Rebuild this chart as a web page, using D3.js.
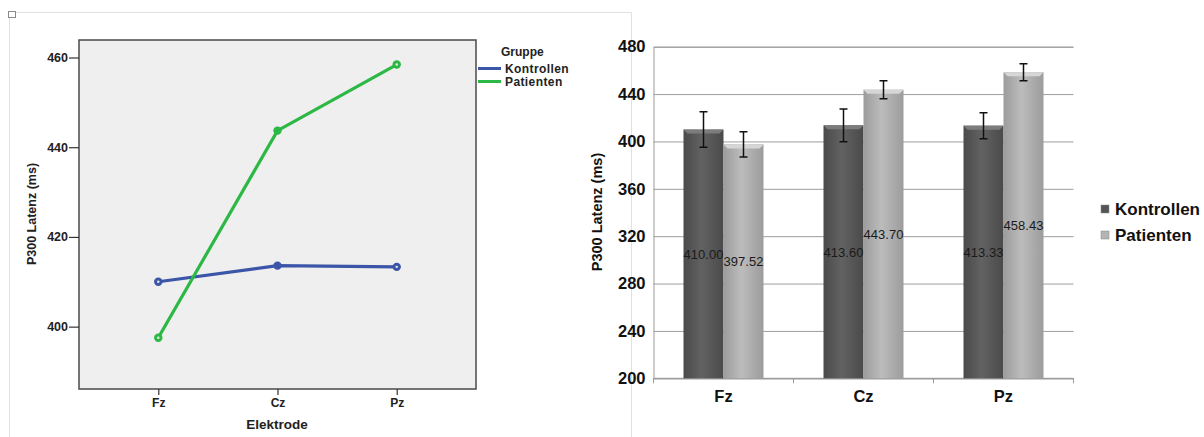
<!DOCTYPE html>
<html lang="de">
<head>
<meta charset="UTF-8">
<title>P300 Latenz</title>
<style>
  body { margin: 0; background: #fff; }
  svg { display: block; font-family: "Liberation Sans", Arial, sans-serif; }
</style>
</head>
<body>
<svg width="1204" height="437"></svg>
<script src="https://d3js.org/d3.v7.min.js"></script>
<script>
  // data
  const electrodes = ["Fz", "Cz", "Pz"];
  const groups = ["Kontrollen", "Patienten"];
  const kontrollen = [410.00, 413.60, 413.33];
  const patienten = [397.52, 443.70, 458.43];
  const errKontrollen = [15.0, 13.8, 11.0];
  const errPatienten = [10.6, 7.6, 7.2];
  const lineTicks = [400, 420, 440, 460];
  const barTicks = [200, 240, 280, 320, 360, 400, 440, 480];

  const svg = d3.select("svg");

  // ---------- left panel (line chart) ----------
  const frame = svg.append("g");
  frame.append("path")
    .attr("d", "M9.5,437 L9.5,12.5 L631.5,12.5 L631.5,437")
    .attr("fill", "none").attr("stroke", "#e0e0e0");
  frame.append("rect")
    .attr("x", 8.5).attr("y", 11.5).attr("width", 7).attr("height", 6)
    .attr("fill", "#fff").attr("stroke", "#8a8a8a");

  const L = { left: 79, top: 40, right: 476, bottom: 389 };
  const xL = d3.scalePoint().domain(electrodes).range([L.left, L.right]).padding(0.665);
  const yL = d3.scaleLinear().domain([386.1, 463.9]).range([L.bottom, L.top]);

  const left = svg.append("g");
  left.append("rect")
    .attr("x", L.left).attr("y", L.top)
    .attr("width", L.right - L.left).attr("height", L.bottom - L.top)
    .attr("fill", "#efefef").attr("stroke", "#4a4a4a").attr("stroke-width", 1.5);

  const yAxisL = left.append("g")
    .attr("transform", `translate(${L.left},0)`)
    .call(d3.axisLeft(yL).tickValues(lineTicks).tickSize(10).tickPadding(1));
  yAxisL.select(".domain").remove();
  yAxisL.selectAll("line").attr("stroke", "#333").attr("stroke-width", 1.2);
  yAxisL.selectAll("text").attr("fill", "#222").style("font-size", "12.5px").style("font-weight", "bold");

  const xAxisL = left.append("g")
    .attr("transform", `translate(0,${L.bottom})`)
    .call(d3.axisBottom(xL).tickSize(6).tickPadding(3));
  xAxisL.select(".domain").remove();
  xAxisL.selectAll("line").attr("stroke", "#333").attr("stroke-width", 1.2);
  xAxisL.selectAll("text").attr("fill", "#222").style("font-size", "12px").style("font-weight", "bold");

  left.append("text")
    .attr("x", 277).attr("y", 429).attr("text-anchor", "middle")
    .attr("fill", "#222").style("font-size", "13.5px").style("font-weight", "bold")
    .text("Elektrode");
  left.append("text")
    .attr("transform", "translate(36,214) rotate(-90)").attr("text-anchor", "middle")
    .attr("fill", "#222").style("font-size", "12.5px").style("font-weight", "bold")
    .text("P300 Latenz (ms)");

  const lineSeries = [
    { name: groups[0], values: kontrollen, color: "#3b55a8" },
    { name: groups[1], values: patienten, color: "#2bb844" }
  ];
  const line = d3.line().x((d, i) => xL(electrodes[i])).y(d => yL(d));
  lineSeries.forEach(s => {
    left.append("path")
      .attr("d", line(s.values))
      .attr("fill", "none").attr("stroke", s.color).attr("stroke-width", 3.2);
    left.selectAll(null).data(s.values).enter().append("circle")
      .attr("cx", (d, i) => xL(electrodes[i])).attr("cy", d => yL(d))
      .attr("r", 4.2).attr("fill", s.color);
    left.selectAll(null).data(s.values).enter().append("circle")
      .attr("cx", (d, i) => xL(electrodes[i])).attr("cy", d => yL(d))
      .attr("r", 1.2).attr("fill", (d, i) => i === 1 ? s.color : "#e8f0e8");
  });

  // legend
  const legL = left.append("g");
  legL.append("text").attr("x", 501).attr("y", 56)
    .attr("fill", "#222").style("font-size", "12px").style("font-weight", "bold")
    .text("Gruppe");
  lineSeries.forEach((s, i) => {
    const y = 68.5 + i * 13;
    legL.append("line").attr("x1", 478).attr("x2", 501).attr("y1", y).attr("y2", y)
      .attr("stroke", s.color).attr("stroke-width", 3);
    legL.append("text").attr("x", 505).attr("y", y + 4.5)
      .attr("fill", "#222").style("font-size", "12px").style("font-weight", "bold")
      .style("letter-spacing", "0.4px")
      .text(s.name);
  });

  // ---------- right panel (bar chart) ----------
  const R = { left: 653.5, top: 46.7, right: 1073.5, bottom: 378.3 };
  const x0 = d3.scaleBand().domain(electrodes).range([R.left, R.right])
    .paddingInner(0.4286).paddingOuter(0.2143);
  const x1 = d3.scaleBand().domain(groups).range([0, x0.bandwidth()]);
  const yR = d3.scaleLinear().domain([200, 480]).range([R.bottom, R.top]);

  const defs = svg.append("defs");
  function hGrad(id, edge, mid) {
    const g = defs.append("linearGradient").attr("id", id).attr("x1", 0).attr("x2", 1).attr("y1", 0).attr("y2", 0);
    g.append("stop").attr("offset", "0%").attr("stop-color", edge);
    g.append("stop").attr("offset", "45%").attr("stop-color", mid);
    g.append("stop").attr("offset", "100%").attr("stop-color", edge);
  }
  hGrad("gDark", "#4a4a4a", "#626262");
  hGrad("gLight", "#9c9c9c", "#bcbcbc");
  const barFill = { Kontrollen: "url(#gDark)", Patienten: "url(#gLight)" };
  const bevelFill = { Kontrollen: "#7c7c7c", Patienten: "#d6d6d6" };

  const right = svg.append("g");

  const yAxisR = right.append("g")
    .attr("transform", `translate(${R.left},0)`)
    .call(d3.axisLeft(yR).tickValues(barTicks).tickSize(-(R.right - R.left)).tickPadding(8));
  yAxisR.select(".domain").attr("stroke", "#9a9a9a");
  yAxisR.selectAll("line").attr("stroke", "#9e9e9e");
  yAxisR.selectAll("text").attr("fill", "#111").style("font-size", "16.5px").style("font-weight", "bold");

  // bottom axis with ticks between categories
  right.append("line")
    .attr("x1", R.left).attr("x2", R.right).attr("y1", R.bottom).attr("y2", R.bottom)
    .attr("stroke", "#9a9a9a");
  const sep = [R.left].concat(electrodes.map(e => x0(e) + x0.bandwidth() + x0.step() * x0.paddingInner() / 2 - 0));
  sep.forEach(xv => {
    right.append("line").attr("x1", xv).attr("x2", xv)
      .attr("y1", R.bottom).attr("y2", R.bottom + 5).attr("stroke", "#9a9a9a");
  });
  right.selectAll(null).data(electrodes).enter().append("text")
    .attr("x", d => x0(d) + x0.bandwidth() / 2).attr("y", 402)
    .attr("text-anchor", "middle").attr("fill", "#111")
    .style("font-size", "16.5px").style("font-weight", "bold")
    .text(d => d);

  right.append("text")
    .attr("transform", "translate(602,212) rotate(-90)").attr("text-anchor", "middle")
    .attr("fill", "#111").style("font-size", "14.5px").style("font-weight", "bold")
    .text("P300 Latenz (ms)");

  const barData = [];
  electrodes.forEach((e, i) => {
    barData.push({ e, g: "Kontrollen", v: kontrollen[i], err: errKontrollen[i] });
    barData.push({ e, g: "Patienten", v: patienten[i], err: errPatienten[i] });
  });

  const bars = right.selectAll(".bar").data(barData).enter().append("g").attr("class", "bar");
  bars.append("rect")
    .attr("x", d => x0(d.e) + x1(d.g)).attr("y", d => yR(d.v))
    .attr("width", x1.bandwidth()).attr("height", d => R.bottom - yR(d.v))
    .attr("fill", d => barFill[d.g]);
  bars.append("path")
    .attr("d", d => {
      const xa = x0(d.e) + x1(d.g), xb = xa + x1.bandwidth(), yt = yR(d.v);
      return `M${xa},${yt} L${xb},${yt} L${xb - 4},${yt + 4} L${xa + 4},${yt + 4} Z`;
    })
    .attr("fill", d => bevelFill[d.g]);

  // error bars
  bars.append("path")
    .attr("d", d => {
      const cx = x0(d.e) + x1(d.g) + x1.bandwidth() / 2;
      const yt = yR(d.v + d.err), yb = yR(d.v - d.err);
      return `M${cx - 4},${yt} L${cx + 4},${yt} M${cx},${yt} L${cx},${yb} M${cx - 4},${yb} L${cx + 4},${yb}`;
    })
    .attr("fill", "none").attr("stroke", "#111").attr("stroke-width", 1.5);

  // value labels
  bars.append("text")
    .attr("x", d => x0(d.e) + x1(d.g) + x1.bandwidth() / 2)
    .attr("y", d => (yR(d.v) + R.bottom) / 2 + 5)
    .attr("text-anchor", "middle").attr("fill", "#1a1a1a")
    .style("font-size", "13px")
    .text(d => d.v.toFixed(2));

  // legend
  groups.forEach((g, i) => {
    const y = 209 + i * 26;
    right.append("rect").attr("x", 1101).attr("y", y - 4).attr("width", 8).attr("height", 8)
      .attr("fill", g === "Kontrollen" ? "#555" : "#b4b4b4").attr("stroke", "#888").attr("stroke-width", 0.5);
    right.append("text").attr("x", 1115).attr("y", y + 6)
      .attr("fill", "#111").style("font-size", "17px").style("font-weight", "bold")
      .text(g);
  });
</script>
</body>
</html>
